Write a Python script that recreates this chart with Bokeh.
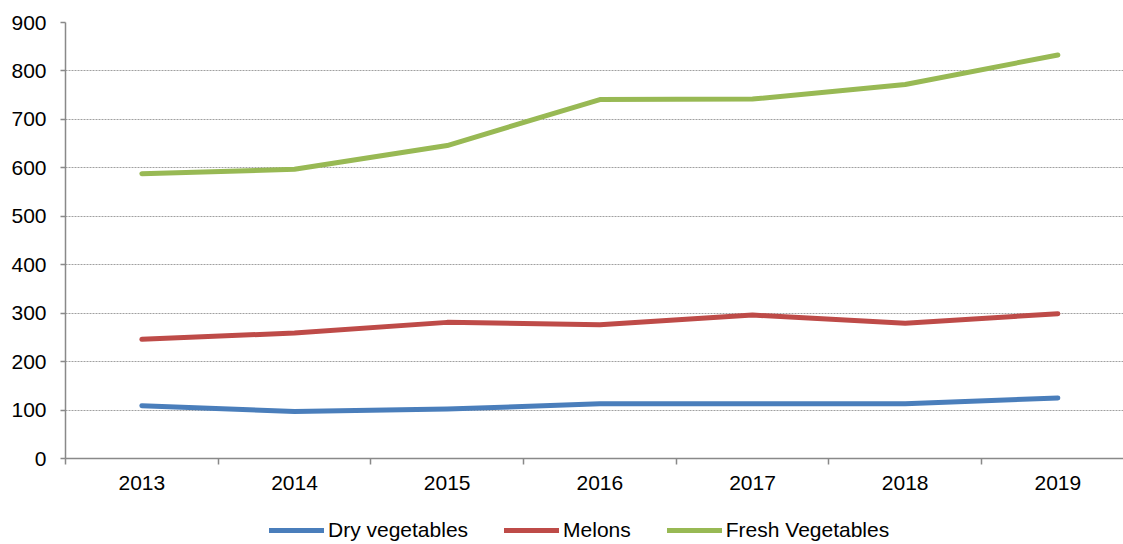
from bokeh.plotting import figure
from bokeh.models import FixedTicker, Legend, LegendItem, Range1d
from bokeh.layouts import column
from bokeh.embed import file_html
from bokeh.resources import INLINE

years = [2013, 2014, 2015, 2016, 2017, 2018, 2019]
dry_vegetables = [109, 97, 102, 113, 113, 113, 125]
melons = [246, 259, 281, 276, 296, 279, 299]
fresh_vegetables = [588, 597, 646, 741, 742, 772, 833]
y_ticks = [0, 100, 200, 300, 400, 500, 600, 700, 800, 900]
series_names = ["Dry vegetables", "Melons", "Fresh Vegetables"]
series_colors = ["#4A7EBB", "#BE4B48", "#98B954"]

FONT = "Liberation Sans"
FS = "21px"
W = 1123
H1 = 506
H2 = 38

xr = Range1d(2012.5, 2012.5 + (W - 65) / 152.67)
p = figure(width=W, height=H1, output_backend="svg", toolbar_location=None,
           x_range=xr, y_range=Range1d(0, 900),
           min_border_left=65, min_border_right=0, min_border_top=22, min_border_bottom=48)
p.outline_line_color = None
p.background_fill_color = "white"

axis_col = "#898989"
p.xaxis.ticker = FixedTicker(ticks=years, minor_ticks=[y - 0.5 for y in years] + [2019.5])
p.xaxis.major_tick_out = 0
p.xaxis.major_tick_in = 0
p.xaxis.minor_tick_out = 6
p.xaxis.minor_tick_in = 0
p.xaxis.minor_tick_line_color = axis_col
p.xaxis.minor_tick_line_width = 1.5
p.xaxis.axis_line_color = axis_col
p.xaxis.axis_line_width = 1.5
p.xaxis.major_label_text_font = FONT
p.xaxis.major_label_text_font_size = FS
p.xaxis.major_label_text_color = "#000000"
p.xaxis.major_label_standoff = 11

p.yaxis.ticker = FixedTicker(ticks=y_ticks)
p.yaxis.major_tick_out = 5
p.yaxis.major_tick_in = 0
p.yaxis.minor_tick_out = 0
p.yaxis.minor_tick_in = 0
p.yaxis.major_tick_line_color = axis_col
p.yaxis.major_tick_line_width = 1.5
p.yaxis.axis_line_color = axis_col
p.yaxis.axis_line_width = 1.5
p.yaxis.major_label_text_font = FONT
p.yaxis.major_label_text_font_size = FS
p.yaxis.major_label_text_color = "#000000"
p.yaxis.major_label_standoff = 14

p.xgrid.grid_line_color = None
p.ygrid.ticker = FixedTicker(ticks=y_ticks[1:])
p.ygrid.grid_line_color = "#a0a0a0"
p.ygrid.grid_line_dash = "2 1"
p.ygrid.grid_line_width = 1

lw = 5
series = [dry_vegetables, melons, fresh_vegetables]
for vals, col in zip(series, series_colors):
    p.line(years, vals, line_color=col, line_width=lw, line_cap="round", line_join="round")

# legend strip below the chart
lg = figure(width=W, height=H2, output_backend="svg", toolbar_location=None,
            x_range=Range1d(2012.5, 2019.5), y_range=Range1d(5000, 6000),
            x_axis_location=None, y_axis_location=None,
            min_border_left=0, min_border_right=0, min_border_top=0, min_border_bottom=0)
lg.outline_line_color = None
lg.xgrid.grid_line_color = None
lg.ygrid.grid_line_color = None
items = []
for vals, col, name in zip(series, series_colors, series_names):
    r = lg.line(years, vals, line_color=col, line_width=lw, line_cap="round", line_join="round")
    items.append(LegendItem(label=name, renderers=[r]))

legend = Legend(items=items, orientation="horizontal", location=(204, 2),
                glyph_width=55, glyph_height=20, label_height=20, label_standoff=4,
                spacing=36, padding=0, margin=0,
                label_text_font=FONT, label_text_font_size=FS, label_text_color="#000000",
                border_line_color=None, background_fill_alpha=0)
lg.add_layout(legend, "center")

layout = column(p, lg, spacing=0)
open("out.html", "w").write(file_html(layout, INLINE))
